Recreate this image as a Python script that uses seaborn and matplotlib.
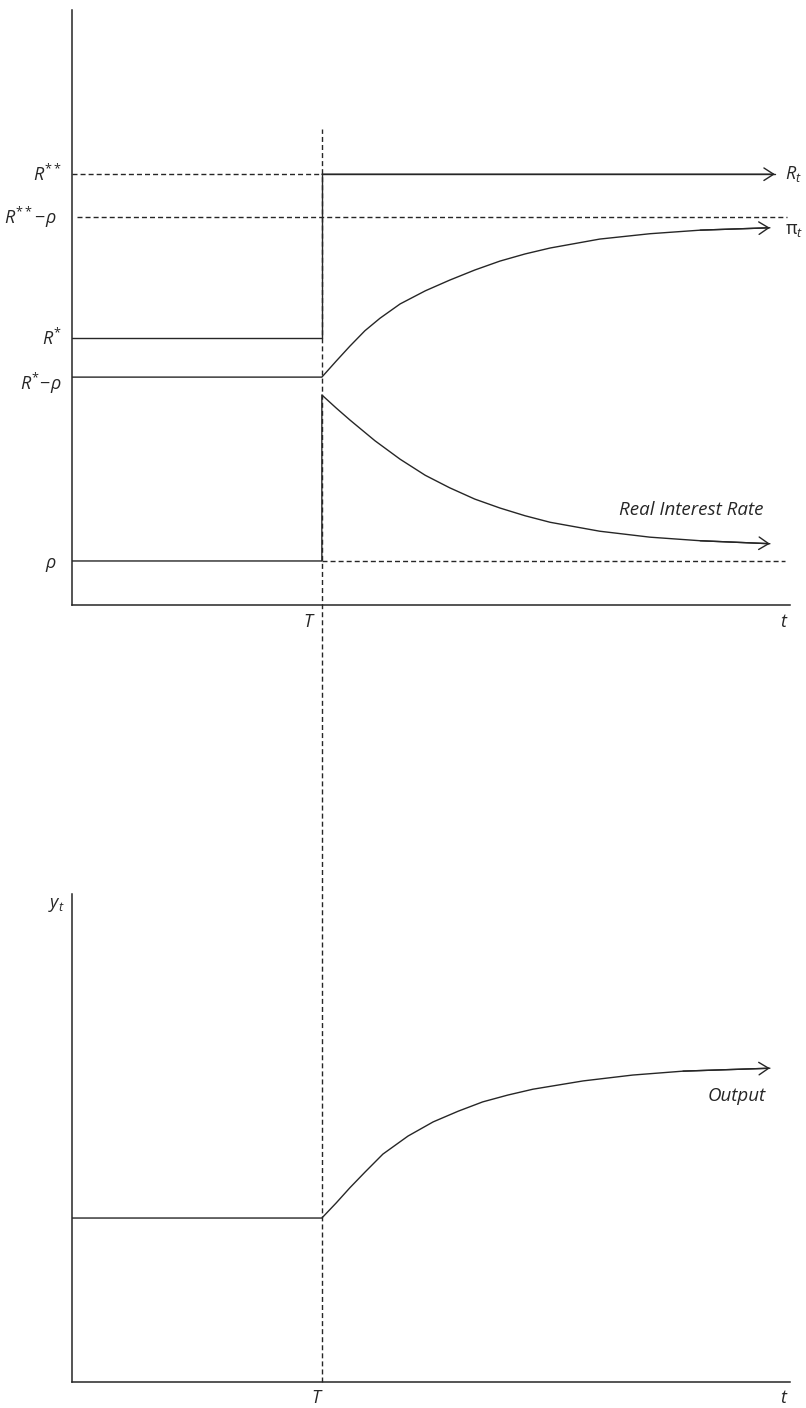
import matplotlib
matplotlib.use("Agg")
import matplotlib.pyplot as plt
import seaborn as sns

# time axis: policy change at T
T = 3.48

# levels in the upper panel
R_star = 4.49
R_star_rho = 3.83
R_star2 = 7.24
R_star2_rho = 6.52
rho = 0.74

# nominal rate R_t
R_x = [0, T, T, 9.79]
R_y = [R_star, R_star, R_star2, R_star2]

# inflation pi_t
pi_x = [0, T, 3.68, 3.87, 4.08, 4.29, 4.57, 4.92, 5.26, 5.61, 5.96, 6.31, 6.66,
        7.35, 8.05, 8.75, 9.72]
pi_y = [3.83, 3.83, 4.10, 4.35, 4.61, 4.82, 5.06, 5.28, 5.46, 5.63, 5.78, 5.90,
        6.00, 6.15, 6.24, 6.30, 6.34]

# real interest rate
real_x = [0, T, T, 3.68, 3.87, 4.22, 4.57, 4.92, 5.26, 5.61, 5.96, 6.31, 6.66,
          7.35, 8.05, 8.75, 9.72]
real_y = [rho, rho, 3.53, 3.31, 3.11, 2.76, 2.45, 2.18, 1.97, 1.78, 1.63, 1.50,
          1.39, 1.24, 1.14, 1.08, 1.03]

# output y_t (lower panel)
out_x = [0, T, 3.68, 3.87, 4.08, 4.33, 4.68, 5.03, 5.38, 5.72, 6.07, 6.42, 7.12,
         7.81, 8.51, 9.72]
out_y = [3.36, 3.36, 3.67, 3.98, 4.30, 4.67, 5.04, 5.33, 5.55, 5.74, 5.88, 6.00,
         6.17, 6.29, 6.37, 6.43]

INK = "#262626"
LW = 1.0
DASH = (0, (3.6, 2.2))

sns.set_style("white")
plt.rcParams["font.family"] = ["Open Sans", "DejaVu Sans"]
plt.rcParams["mathtext.fontset"] = "custom"
plt.rcParams["mathtext.rm"] = "Open Sans"
plt.rcParams["mathtext.it"] = "Open Sans:italic"

fig = plt.figure(figsize=(8.06, 14.08), dpi=100)
ax = fig.add_axes([0.08933, 0.57031, 0.89082, 0.42259])
ax2 = fig.add_axes([0.08933, 0.018466, 0.89082, 0.34659])


def arrow_line(a, xs, ys):
    sns.lineplot(x=xs, y=ys, ax=a, sort=False, estimator=None, color=INK, lw=LW)
    a.annotate("", xy=(xs[-1], ys[-1]), xytext=(xs[-2], ys[-2]),
               arrowprops=dict(arrowstyle="->,head_length=0.7,head_width=0.45",
                               color=INK, lw=LW, shrinkA=0, shrinkB=0))


for a in (ax, ax2):
    a.set_xlim(0, 10)
    a.set_ylim(0, 10)
    a.set_xticks([])
    a.set_yticks([])
    a.patch.set_alpha(0)
    sns.despine(ax=a)
    for s in ("left", "bottom"):
        a.spines[s].set_color(INK)
        a.spines[s].set_linewidth(1.1)

# dashed guides
ax.plot([0, T], [R_star2, R_star2], color=INK, lw=LW, ls=DASH)
ax.plot([0.07, 9.96], [R_star2_rho, R_star2_rho], color=INK, lw=LW, ls=DASH)
ax.plot([T, 9.93], [rho, rho], color=INK, lw=LW, ls=DASH)
ax.axvline(T, ymin=-1.3059, ymax=0.80, color=INK, lw=LW, ls=DASH, clip_on=False)

arrow_line(ax, R_x, R_y)
arrow_line(ax, pi_x, pi_y)
arrow_line(ax, real_x, real_y)
arrow_line(ax2, out_x, out_y)

lab = dict(fontsize=13, color=INK, va="center")
yt = ax.get_yaxis_transform()
ax.text(-0.014, R_star2, r"$R^{**}$", transform=yt, ha="right", **lab)
ax.text(-0.021, R_star2_rho, r"$R^{**}\!-\!\rho$", transform=yt, ha="right", **lab)
ax.text(-0.014, R_star, r"$R^{*}$", transform=yt, ha="right", **lab)
ax.text(-0.014, R_star_rho - 0.1, r"$R^{*}\!-\!\rho$", transform=yt, ha="right", **lab)
ax.text(-0.021, rho - 0.07, r"$\rho$", transform=yt, ha="right", **lab)

ax.text(9.93, R_star2, r"$R_t$", ha="left", **lab)
ax.text(9.93, pi_y[-1] - 0.04, r"$\mathrm{\pi}_t$", ha="left", **lab)
ax.text(8.62, 1.60, "Real Interest Rate", ha="center", fontsize=13.5,
        style="italic", color=INK, va="center")

xt = ax.get_xaxis_transform()
ax.text(3.31, -0.0286, r"$T$", transform=xt, ha="center", **lab)
ax.text(9.92, -0.0286, r"$t$", transform=xt, ha="center", **lab)

yt2 = ax2.get_yaxis_transform()
ax2.text(-0.01, 9.77, r"$y_t$", transform=yt2, ha="right", **lab)
ax2.text(9.26, 5.86, "Output", ha="center", fontsize=13.5,
         style="italic", color=INK, va="center")
xt2 = ax2.get_xaxis_transform()
ax2.text(3.41, -0.033, r"$T$", transform=xt2, ha="center", **lab)
ax2.text(9.92, -0.033, r"$t$", transform=xt2, ha="center", **lab)

fig.savefig("out.png", dpi=100)
